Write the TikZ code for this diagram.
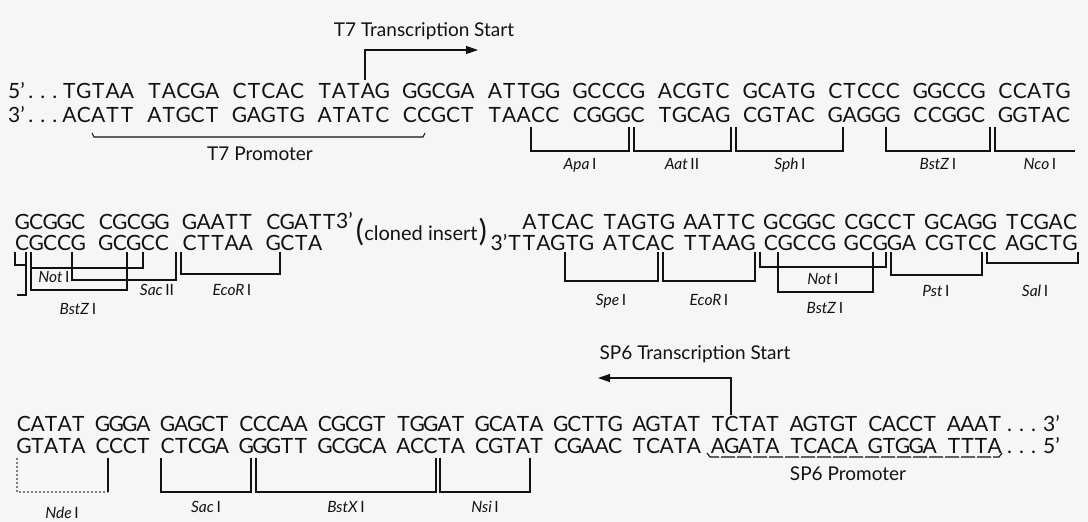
\documentclass[tikz,border=0pt]{standalone}
\usepackage{fontspec}
\setmainfont{Lato}
\usetikzlibrary{arrows.meta}
\definecolor{ink}{gray}{0.07}
\definecolor{paper}{gray}{0.965}
\newlength\lp
\def\seqsp#1{\ifx#1\relax\else\makebox[\lp][c]{#1}\expandafter\seqsp\fi}
\newcommand\ez[2]{\textit{#1}\,#2}
\begin{document}
\begin{tikzpicture}[x=1pt,y=-1pt,
  seq/.style={font=\fontsize{21}{21}\selectfont, inner sep=0pt, anchor=west, text=ink},
  lab/.style={font=\fontsize{19}{19}\selectfont, inner sep=0pt, anchor=base, text=ink},
  enz/.style={font=\fontsize{15.5}{15.5}\selectfont, inner sep=0pt, anchor=base, text=ink},
  brk/.style={draw=ink, line width=1.1pt},
  tip/.style={-{Triangle[length=12pt,width=8pt]}}]
\useasboundingbox[fill=paper] (0,0) rectangle (1088,522);
% ---------------- Row 1 ----------------
\setlength\lp{14.4pt}
\node[seq] (p5a) at (8,91) {5'\,.\,\,.\,\,.};
\node[seq] (p3a) at (8,115) {3'\,.\,\,.\,\,.};
\foreach \s [count=\i from 0] in {TGTAA,TACGA,CTCAC,TATAG,GGCGA,ATTGG,GCCCG,ACGTC,GCATG,CTCCC,GGCCG,CCATG}
  \node[seq] (ta\i) at ({62+85.1*\i},91) {\expandafter\seqsp\s\relax};
\foreach \s [count=\i from 0] in {ACATT,ATGCT,GAGTG,ATATC,CCGCT,TAACC,CGGGC,TGCAG,CGTAC,GAGGG,CCGGC,GGTAC}
  \node[seq] (ba\i) at ({62+85.1*\i},115) {\expandafter\seqsp\s\relax};
\node[lab] (t7s) at (424,36) {T7 Transcription Start};
\coordinate (t7a) at (365,80);
\coordinate (t7b) at (365,50);
\coordinate (t7c) at (478,50);
\draw[brk,tip] (t7a) -- (t7b) -- (t7c);
\draw[brk] (92,133) -- (94,137) -- (423,137) -- (425,133);
\node[lab] (t7p) at (260,160) {T7 Promoter};
\draw[brk] (531,127) |- (629,151) -- (629,127);
\draw[brk] (634,127) |- (731,151) -- (731,127);
\draw[brk] (736,127) |- (843,151) -- (843,127);
\draw[brk] (886,127) |- (990,151) -- (990,127);
\draw[brk] (995,127) |- (1075,151);
\node[enz] (eApa) at (580,169) {\ez{Apa}{I}};
\node[enz] (eAat) at (682,169) {\ez{Aat}{II}};
\node[enz] (eSph) at (790,169) {\ez{Sph}{I}};
\node[enz] (eBz1) at (938,169) {\ez{BstZ}{I}};
\node[enz] (eNco) at (1040,169) {\ez{Nco}{I}};
% ---------------- Row 2 left ----------------
\setlength\lp{14pt}
\foreach \s [count=\i from 0] in {GCGGC,CGCGG,GAATT,CGATT}
  \node[seq] (tb\i) at ({15+83.7*\i},222) {\expandafter\seqsp\s\relax};
\foreach \s [count=\i from 0] in {CGCCG,GCGCC,CTTAA,GCTA}
  \node[seq] (bb\i) at ({15+83.7*\i},243) {\expandafter\seqsp\s\relax};
\node[seq] (p3b) at (336,221) {3'};
\node[inner sep=0pt, font=\fontsize{30}{30}\selectfont, text=ink] (lpar) at (360,232) {(};
\node[inner sep=0pt, font=\fontsize{20}{20}\selectfont, text=ink] (clon) at (421,233) {cloned insert};
\node[inner sep=0pt, font=\fontsize{30}{30}\selectfont, text=ink] (rpar) at (483,232) {)};
\draw[brk] (15,252) -- (15,265) -- (26,265);
\draw[brk] (26,252) -- (26,295) -- (17,295);
\draw[brk] (31,252) |- (127,290) -- (127,252);
\draw[brk] (31,268) -- (143,268) -- (143,252);
\draw[brk] (72,252) |- (176,280) -- (176,252);
\draw[brk] (181,252) |- (280,274) -- (280,252);
\node[enz] (eNot1) at (54,282) {\ez{Not}{I}};
\node[enz] (eSac2) at (157,295) {\ez{Sac}{II}};
\node[enz] (eEco1) at (232,295) {\ez{EcoR}{I}};
\node[enz] (eBz2) at (78,314) {\ez{BstZ}{I}};
% ---------------- Row 2 right ----------------
\setlength\lp{14.4pt}
\foreach \s [count=\i from 0] in {ATCAC,TAGTG,AATTC,GCGGC,CGCCT,GCAGG,TCGAC}
  \node[seq] (tc\i) at ({522+80.5*\i},222) {\expandafter\seqsp\s\relax};
\node[seq,anchor=east] (bc0) at (594,243) {3'\seqsp TTAGTG\relax};
\foreach \s [count=\i from 1] in {ATCAC,TTAAG,CGCCG,GCGGA,CGTCC,AGCTG}
  \node[seq] (bc\i) at ({522+80.5*\i},243) {\expandafter\seqsp\s\relax};
\draw[brk] (565,252) |- (658,281) -- (658,252);
\draw[brk] (663,252) |- (755,281) -- (755,252);
\draw[brk] (760,252) |- (886,267) -- (886,252);
\draw[brk] (778,252) |- (873,292) -- (873,252);
\draw[brk] (891,252) |- (982,275) -- (982,252);
\draw[brk] (987,252) |- (1078,263) -- (1078,252);
\node[enz] (eSpe) at (611,305) {\ez{Spe}{I}};
\node[enz] (eEco2) at (709,305) {\ez{EcoR}{I}};
\node[enz] (eNot2) at (823,284) {\ez{Not}{I}};
\node[enz] (eBz3) at (825,313) {\ez{BstZ}{I}};
\node[enz] (ePst) at (936,296) {\ez{Pst}{I}};
\node[enz] (eSal) at (1035,296) {\ez{Sal}{I}};
% ---------------- Row 3 ----------------
\setlength\lp{13.6pt}
\foreach \s/\x [count=\i from 0] in {CATAT/17,GGGA/95.63,GAGCT/160.66,CCCAA/239.29,CGCGT/317.92,TGGAT/396.55,GCATA/475.18,GCTTG/553.81,AGTAT/632.44,TCTAT/711.07,AGTGT/789.7,CACCT/868.33,AAAT/946.96}
  \node[seq] (td\i) at (\x,424) {\expandafter\seqsp\s\relax};
\foreach \s/\x [count=\i from 0] in {GTATA/17,CCCT/95.63,CTCGA/160.66,GGGTT/239.29,GCGCA/317.92,ACCTA/396.55,CGTAT/475.18,CGAAC/553.81,TCATA/632.44,AGATA/711.07,TCACA/789.7,GTGGA/868.33,TTTA/946.96}
  \node[seq] (bd\i) at (\x,446) {\expandafter\seqsp\s\relax};
\node[seq] (p3c) at (1007,424) {.\,\,.\,\,.\,\,3'};
\node[seq] (p5c) at (1007,446) {.\,\,.\,\,.\,\,5'};
\node[lab] (sp6s) at (695,359) {SP6 Transcription Start};
\coordinate (s6a) at (731,415);
\coordinate (s6b) at (731,378);
\coordinate (s6c) at (598,378);
\draw[brk,tip] (s6a) -- (s6b) -- (s6c);
\draw[brk,dash pattern=on 14pt off 2pt] (707,453) -- (710,457) -- (999,457) -- (1002,453);
\node[lab] (sp6p) at (848,480) {SP6 Promoter};
\draw[brk,draw=ink!55,dash pattern=on 2pt off 2pt] (17,458) |- (108,492);
\draw[brk] (108,492) -- (108,458);
\draw[brk] (161,458) |- (251,492) -- (251,458);
\draw[brk] (256,458) |- (436,492) -- (436,458);
\draw[brk] (440,458) |- (530,492) -- (530,458);
\node[enz] (eNde) at (62,518) {\ez{Nde}{I}};
\node[enz] (eSac1) at (206,512) {\ez{Sac}{I}};
\node[enz] (eBsx) at (346,512) {\ez{BstX}{I}};
\node[enz] (eNsi) at (485,512) {\ez{Nsi}{I}};
\end{tikzpicture}
\end{document}
